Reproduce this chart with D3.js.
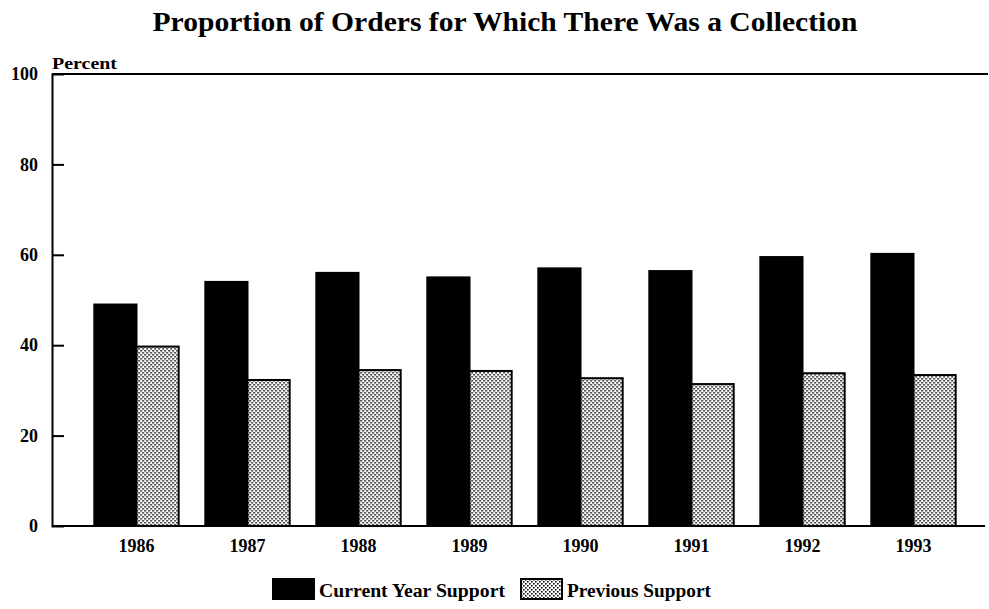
<!DOCTYPE html>
<html>
<head>
<meta charset="utf-8">
<script src="https://cdn.jsdelivr.net/npm/d3@7"></script>
<style>
  body { margin: 0; background: #fff; }
  text { font-family: "Liberation Serif", "Times New Roman", serif; font-weight: bold; fill: #000; }
</style>
</head>
<body>
<div id="chart"></div>
<script>
'use strict';

var years = ['1986', '1987', '1988', '1989', '1990', '1991', '1992', '1993'];
var currentYear = [49, 54, 56, 55, 57, 56.4, 59.5, 60.2];
var previous = [39.7, 32.3, 34.5, 34.3, 32.7, 31.4, 33.8, 33.4];
var yTicks = [0, 20, 40, 60, 80, 100];
var seriesNames = ['Current Year Support', 'Previous Support'];

var width = 989, height = 609;
var plotLeft = 52, plotRight = 988, plotTop = 74, plotBottom = 526;

var svg = d3.select('#chart').append('svg')
    .attr('width', width)
    .attr('height', height);

// dotted fill for the second series
var defs = svg.append('defs');
var pat = defs.append('pattern')
    .attr('id', 'dots')
    .attr('patternUnits', 'userSpaceOnUse')
    .attr('width', 4).attr('height', 4);
pat.append('rect').attr('width', 4).attr('height', 4).attr('fill', '#fff');
pat.append('rect').attr('x', 0).attr('y', 0).attr('width', 1.6).attr('height', 1.6).attr('fill', '#111');
pat.append('rect').attr('x', 2).attr('y', 2).attr('width', 1.6).attr('height', 1.6).attr('fill', '#111');

var fills = ['#000', 'url(#dots)'];

var y = d3.scaleLinear().domain([0, 100]).range([plotBottom, plotTop]);

var x = d3.scaleBand()
    .domain(years)
    .range([81, 969])
    .paddingInner(0.24)
    .paddingOuter(0.12);

var xs = d3.scaleBand()
    .domain([0, 1])
    .range([0, x.bandwidth()]);

// title
svg.append('text')
    .attr('x', 505).attr('y', 31)
    .attr('text-anchor', 'middle')
    .attr('textLength', 705)
    .attr('lengthAdjust', 'spacingAndGlyphs')
    .style('font-size', '28px')
    .text('Proportion of Orders for Which There Was a Collection');

// bars
var data = years.map(function(yr, i) {
    return { year: yr, vals: [currentYear[i], previous[i]] };
});

var groups = svg.append('g').selectAll('g')
    .data(data)
    .enter().append('g')
    .attr('transform', function(d) { return 'translate(' + x(d.year) + ',0)'; });

groups.selectAll('rect')
    .data(function(d) { return d.vals; })
    .enter().append('rect')
    .attr('x', function(d, i) { return xs(i); })
    .attr('y', function(d) { return y(d); })
    .attr('width', xs.bandwidth())
    .attr('height', function(d) { return y(0) - y(d); })
    .attr('fill', function(d, i) { return fills[i]; })
    .attr('stroke', '#000')
    .attr('stroke-width', 2);

// frame lines
svg.append('line')
    .attr('x1', plotLeft).attr('x2', plotRight)
    .attr('y1', plotTop).attr('y2', plotTop)
    .attr('stroke', '#000').attr('stroke-width', 2);
svg.append('line')
    .attr('x1', plotLeft).attr('x2', 985)
    .attr('y1', plotBottom).attr('y2', plotBottom)
    .attr('stroke', '#000').attr('stroke-width', 2);

// y axis
var yAxis = d3.axisLeft(y)
    .tickValues(yTicks)
    .tickSize(-12)
    .tickPadding(14);
var gy = svg.append('g')
    .attr('transform', 'translate(' + plotLeft + ',0)')
    .call(yAxis);
gy.select('.domain').attr('stroke-width', 2);
gy.selectAll('.tick line').attr('stroke-width', 2)
    .filter(function(d) { return d === 0 || d === 100; }).remove();
gy.selectAll('.tick text')
    .style('font-size', '18px')
    .style('font-family', '"Liberation Serif", serif')
    .style('font-weight', 'bold');

svg.append('text')
    .attr('x', 52).attr('y', 69)
    .attr('textLength', 65)
    .attr('lengthAdjust', 'spacingAndGlyphs')
    .style('font-size', '17px')
    .text('Percent');

// x axis
var xAxis = d3.axisBottom(x).tickSize(0).tickPadding(13);
var gx = svg.append('g')
    .attr('transform', 'translate(0,' + plotBottom + ')')
    .call(xAxis);
gx.select('.domain').remove();
gx.selectAll('.tick text')
    .style('font-size', '18px')
    .style('font-family', '"Liberation Serif", serif')
    .style('font-weight', 'bold');

// legend
var legendX = [273, 521];
var legendTextLen = [186, 144];
var legend = svg.append('g').selectAll('g')
    .data(seriesNames)
    .enter().append('g')
    .attr('transform', function(d, i) { return 'translate(' + legendX[i] + ',579)'; });
legend.append('rect')
    .attr('width', 41).attr('height', 20)
    .attr('fill', function(d, i) { return fills[i]; })
    .attr('stroke', '#000').attr('stroke-width', 2);
legend.append('text')
    .attr('x', 46).attr('y', 18)
    .attr('textLength', function(d, i) { return legendTextLen[i]; })
    .attr('lengthAdjust', 'spacingAndGlyphs')
    .style('font-size', '18px')
    .text(function(d) { return d; });
</script>
</body>
</html>
